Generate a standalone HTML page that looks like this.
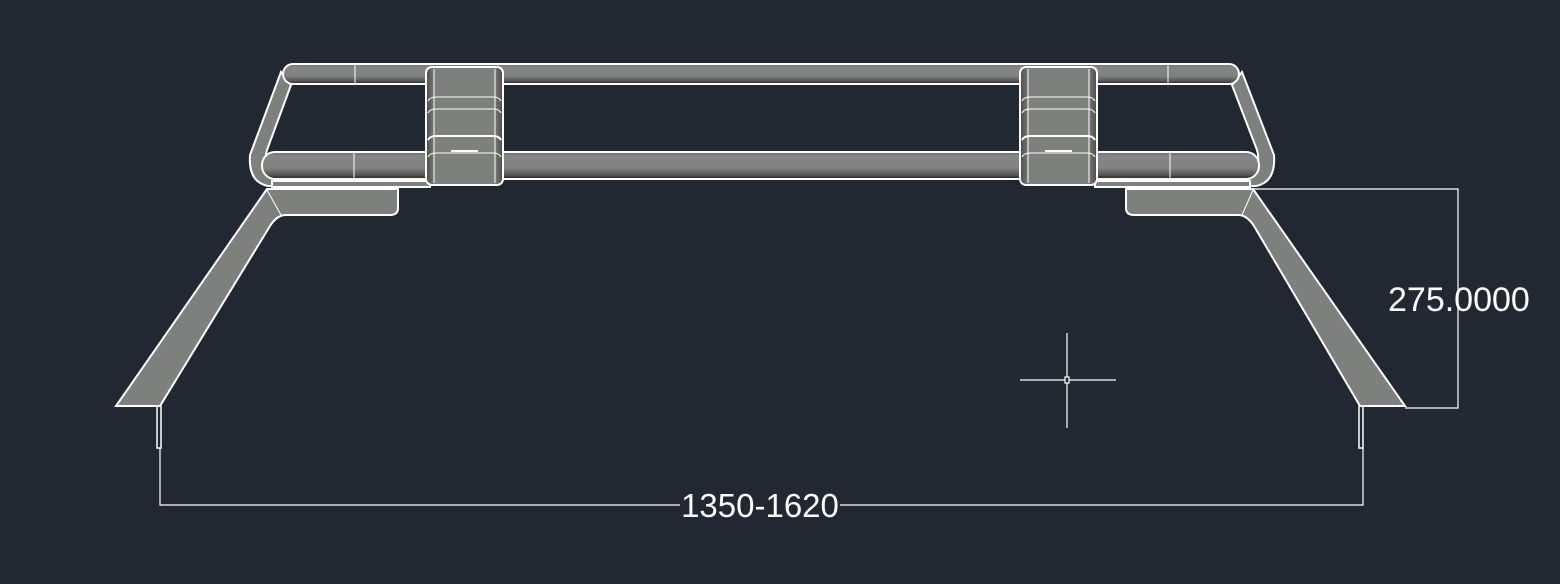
<!DOCTYPE html>
<html><head><meta charset="utf-8"><style>
html,body{margin:0;padding:0;background:#212831;width:1560px;height:584px;overflow:hidden}
svg{display:block}
</style></head><body>
<svg width="1560" height="584" viewBox="0 0 1560 584" xmlns="http://www.w3.org/2000/svg">
<defs>
<linearGradient id="tube" x1="0" y1="0" x2="0" y2="1">
<stop offset="0" stop-color="#6a6c6a"/><stop offset="0.15" stop-color="#848684"/><stop offset="0.6" stop-color="#808280"/><stop offset="0.85" stop-color="#555"/><stop offset="1" stop-color="#1e1e1e"/>
</linearGradient>
<linearGradient id="clamp" x1="0" y1="0" x2="1" y2="0">
<stop offset="0" stop-color="#4a4a4a"/><stop offset="0.12" stop-color="#7e807e"/><stop offset="0.88" stop-color="#7e807e"/><stop offset="1" stop-color="#4a4a4a"/>
</linearGradient>
</defs>
<g stroke="#fff" fill="none">
<path d="M281,72 L250,155 Q248,182 268,186 L280,186 L268,168 Q264,160 267,150 L291,85 Z" fill="#7e807e" stroke-width="2"/>
<path d="M1242,72 L1274,155 Q1276,182 1256,186 L1244,186 L1256,168 Q1260,160 1257,150 L1232,85 Z" fill="#7e807e" stroke-width="2"/>
<rect x="283" y="64" width="956" height="20" rx="10" fill="url(#tube)" stroke-width="2"/>
<rect x="262" y="152" width="997" height="27" rx="13" fill="url(#tube)" stroke-width="2"/>
<line x1="355" y1="65" x2="355" y2="83" stroke-width="1"/>
<line x1="1168" y1="65" x2="1168" y2="83" stroke-width="1"/>
<line x1="354" y1="153" x2="354" y2="178" stroke-width="1"/>
<line x1="1170" y1="153" x2="1170" y2="178" stroke-width="1"/>
<rect x="272" y="181" width="158" height="6" fill="#7e807e" stroke-width="2"/>
<rect x="1095" y="181" width="155" height="6" fill="#7e807e" stroke-width="2"/>
<g stroke-width="2">
<rect x="426" y="67" width="77" height="118" rx="6" fill="url(#clamp)"/>
<rect x="1020" y="67" width="77" height="118" rx="6" fill="url(#clamp)"/>
</g>
<g stroke-width="1">
<line x1="434" y1="69" x2="434" y2="183"/><line x1="495" y1="69" x2="495" y2="183"/>
<line x1="1028" y1="69" x2="1028" y2="183"/><line x1="1089" y1="69" x2="1089" y2="183"/>
<path d="M428,101 Q430,97 436,97 L493,97 Q499,97 501,101"/><path d="M428,113 Q430,109 436,109 L493,109 Q499,109 501,113"/>
<path d="M428,140 Q430,136 436,136 L493,136 Q499,136 501,140" stroke-width="2"/><path d="M428,157 Q430,153 436,153 L493,153 Q499,153 501,157"/>
<path d="M1022,101 Q1024,97 1030,97 L1087,97 Q1093,97 1095,101"/><path d="M1022,113 Q1024,109 1030,109 L1087,109 Q1093,109 1095,113"/>
<path d="M1022,140 Q1024,136 1030,136 L1087,136 Q1093,136 1095,140" stroke-width="2"/><path d="M1022,157 Q1024,153 1030,153 L1087,153 Q1093,153 1095,157"/>
</g>
<rect x="451" y="150" width="27" height="2" fill="#fff" stroke="none"/>
<rect x="1045" y="150" width="27" height="2" fill="#fff" stroke="none"/>
<path d="M267,189 L398,189 L398,208 Q398,215 390,215 L286,215 Q277,215 270,226 L160,406 L116,406 Z" fill="#7e807e" stroke-width="2"/>
<line x1="267" y1="190" x2="281" y2="215" stroke-width="1"/>
<path d="M1253,189 L1126,189 L1126,208 Q1126,215 1134,215 L1238,215 Q1247,215 1254,226 L1360,406 L1405,406 Z" fill="#7e807e" stroke-width="2"/>
<line x1="1253" y1="190" x2="1242" y2="215" stroke-width="1"/>
<rect x="157" y="406" width="4" height="42" stroke-width="1.5"/>
<rect x="1359" y="406" width="4" height="42" stroke-width="1.5"/>
<g stroke-width="1.2">
<path d="M160,448 L160,505 L680,505"/><path d="M840,505 L1363,505 L1363,448"/>
<path d="M1245,189 L1458,189 L1458,408 L1405,408"/>
<line x1="1020" y1="380" x2="1116" y2="380"/><line x1="1067" y1="333" x2="1067" y2="428"/>
</g>
<rect x="1065" y="377" width="4" height="6" fill="#212831" stroke-width="1.2"/>
</g>
<text x="760" y="517" fill="#fff" font-family="Liberation Sans, sans-serif" font-size="33" text-anchor="middle">1350-1620</text>
<text x="1388" y="311" fill="#fff" font-family="Liberation Sans, sans-serif" font-size="34">275.0000</text>
</svg>
</body></html>
